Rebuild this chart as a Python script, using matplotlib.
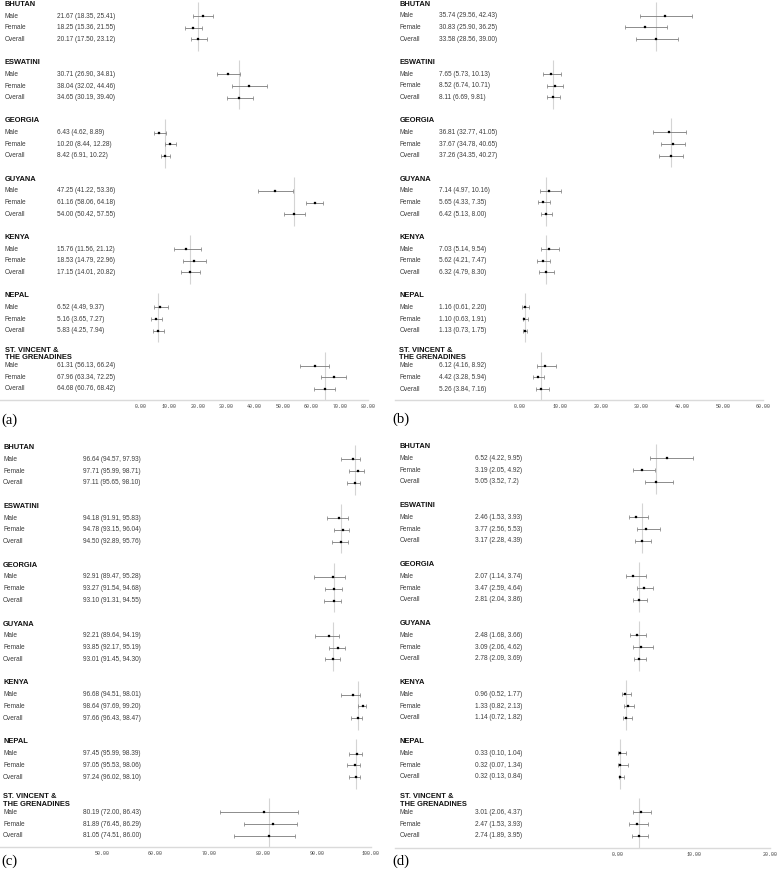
import matplotlib
matplotlib.use("Agg")
import matplotlib.pyplot as plt
from matplotlib.transforms import blended_transform_factory

# ---------------- data ----------------
countries = ["BHUTAN", "ESWATINI", "GEORGIA", "GUYANA", "KENYA", "NEPAL",
             ["ST. VINCENT &", "THE GRENADINES"]]
subgroups = ["Male", "Female", "Overall"]

a_est = [[21.67, 18.25, 20.17], [30.71, 38.04, 34.65], [6.43, 10.20, 8.42],
         [47.25, 61.16, 54.00], [15.76, 18.53, 17.15], [6.52, 5.16, 5.83],
         [61.31, 67.96, 64.68]]
a_lo = [[18.35, 15.36, 17.50], [26.90, 32.02, 30.19], [4.62, 8.44, 6.91],
        [41.22, 58.06, 50.42], [11.56, 14.79, 14.01], [4.49, 3.65, 4.25],
        [56.13, 63.34, 60.76]]
a_hi = [[25.41, 21.55, 23.12], [34.81, 44.46, 39.40], [8.89, 12.28, 10.22],
        [53.36, 64.18, 57.55], [21.12, 22.96, 20.82], [9.37, 7.27, 7.94],
        [66.24, 72.25, 68.42]]
a_ticks = [0, 10, 20, 30, 40, 50, 60, 70, 80]

b_est = [[35.74, 30.83, 33.58], [7.65, 8.52, 8.11], [36.81, 37.67, 37.26],
         [7.14, 5.65, 6.42], [7.03, 5.62, 6.32], [1.16, 1.10, 1.13],
         [6.12, 4.42, 5.26]]
b_lo = [[29.56, 25.90, 28.56], [5.73, 6.74, 6.69], [32.77, 34.78, 34.35],
        [4.97, 4.33, 5.13], [5.14, 4.21, 4.79], [0.61, 0.63, 0.73],
        [4.16, 3.28, 3.84]]
b_hi = [[42.43, 36.25, 39.00], [10.13, 10.71, 9.81], [41.05, 40.65, 40.27],
        [10.16, 7.35, 8.00], [9.54, 7.47, 8.30], [2.20, 1.91, 1.75],
        [8.92, 5.94, 7.16]]
b_ticks = [0, 10, 20, 30, 40, 50, 60]

c_est = [[96.64, 97.71, 97.11], [94.18, 94.78, 94.50], [92.91, 93.27, 93.10],
         [92.21, 93.85, 93.01], [96.68, 98.64, 97.66], [97.45, 97.05, 97.24],
         [80.19, 81.89, 81.05]]
c_lo = [[94.57, 95.99, 95.65], [91.91, 93.15, 92.89], [89.47, 91.54, 91.31],
        [89.64, 92.17, 91.45], [94.51, 97.69, 96.43], [95.99, 95.53, 96.02],
        [72.00, 76.45, 74.51]]
c_hi = [[97.93, 98.71, 98.10], [95.83, 96.04, 95.76], [95.28, 94.68, 94.55],
        [94.19, 95.19, 94.30], [98.01, 99.20, 98.47], [98.39, 98.06, 98.10],
        [86.43, 86.29, 86.00]]
c_ticks = [50, 60, 70, 80, 90, 100]

d_est = [[6.52, 3.19, 5.05], [2.46, 3.77, 3.17], [2.07, 3.47, 2.81],
         [2.48, 3.09, 2.78], [0.96, 1.33, 1.14], [0.33, 0.32, 0.32],
         [3.01, 2.47, 2.74]]
d_lo = [[4.22, 2.05, 3.52], [1.53, 2.56, 2.28], [1.14, 2.59, 2.04],
        [1.68, 2.06, 2.09], [0.52, 0.82, 0.72], [0.10, 0.07, 0.13],
        [2.06, 1.53, 1.89]]
d_hi = [[9.95, 4.92, 7.20], [3.93, 5.53, 4.39], [3.74, 4.64, 3.86],
        [3.66, 4.62, 3.69], [1.77, 2.13, 1.82], [1.04, 1.34, 0.84],
        [4.37, 3.93, 3.95]]
d_ticks = [0, 10, 20]
d_text_override = {(0, 2): "5.05 (3.52, 7.2)"}

# ---------------- layout ----------------
W, H = 778, 876
fig = plt.figure(figsize=(W / 100, H / 100), dpi=100)
fig.patch.set_facecolor("white")

panels = [
    dict(tag="(a)", est=a_est, lo=a_lo, hi=a_hi, ticks=a_ticks, over={},
         px_left=0, t0=(0, 141.0), t1=(80, 368.3), y0=4.5, u=11.65, top=0, bottom=400,
         lab_x=4.7, val_x=57.3, tag_xy=(1, 420.5)),
    dict(tag="(b)", est=b_est, lo=b_lo, hi=b_hi, ticks=b_ticks, over={},
         px_left=395, t0=(0, 520.0), t1=(60, 763.3), y0=4.0, u=11.67, top=0, bottom=400,
         lab_x=399.3, val_x=439.0, tag_xy=(392, 419.5)),
    dict(tag="(c)", est=c_est, lo=c_lo, hi=c_hi, ticks=c_ticks, over={},
         px_left=0, t0=(50, 101.7), t1=(100, 370.7), y0=447.5, u=11.77, top=440, bottom=847,
         lab_x=3.2, val_x=82.7, tag_xy=(1, 861.5)),
    dict(tag="(d)", est=d_est, lo=d_lo, hi=d_hi, ticks=d_ticks, over=d_text_override,
         px_left=395, t0=(0, 617.7), t1=(20, 770.0), y0=446.5, u=11.8, top=440, bottom=847.5,
         lab_x=400.0, val_x=475.0, tag_xy=(392, 861.5)),
]

SANS = ["Liberation Sans", "DejaVu Sans"]
TXT_COL = "#3c3c3c"


def fmt(v):
    return f"{v:.2f}"


for p in panels:
    (v0, px0), (v1, px1) = p["t0"], p["t1"]
    scale = (px1 - px0) / (v1 - v0)
    xleft = v0 - (px0 - p["px_left"]) / scale
    ax = fig.add_axes([p["px_left"] / W, 1 - p["bottom"] / H,
                       (px1 - p["px_left"]) / W, (p["bottom"] - p["top"]) / H])
    ax.set_xlim(xleft, v1)
    r_bottom = (p["bottom"] - p["y0"]) / p["u"]
    r_top = (p["top"] - p["y0"]) / p["u"]
    ax.set_ylim(r_bottom, r_top)
    ax.patch.set_alpha(0)
    for s in ["top", "left", "right"]:
        ax.spines[s].set_visible(False)
    ax.spines["bottom"].set_color("#dadada")
    ax.spines["bottom"].set_linewidth(1.0)
    ax.set_yticks([])
    ax.set_xticks(p["ticks"])
    ax.set_xticklabels([fmt(t) for t in p["ticks"]], fontfamily="Liberation Mono",
                       fontsize=3.6, color="#444444")
    ax.tick_params(axis="x", length=0, pad=3.0)

    tr = blended_transform_factory(fig.transFigure, ax.transData)

    for g, country in enumerate(countries):
        h = 5 * g
        # header
        if isinstance(country, list):
            ax.text(p["lab_x"] / W, h - 0.31, country[0], transform=tr, fontsize=5.4,
                    fontweight="bold", family=SANS, color="#111111", va="center", ha="left")
            ax.text(p["lab_x"] / W, h + 0.31, country[1], transform=tr, fontsize=5.4,
                    fontweight="bold", family=SANS, color="#111111", va="center", ha="left")
        else:
            ax.text(p["lab_x"] / W, h, country, transform=tr, fontsize=5.4,
                    fontweight="bold", family=SANS, color="#111111", va="center", ha="left")
        # reference line at overall estimate
        ax.vlines(p["est"][g][2], h - 0.2, h + 4.0, color="#d4d4d4", lw=0.8, zorder=1)
        for k, sg in enumerate(subgroups):
            r = h + 1 + k
            e, lo, hi = p["est"][g][k], p["lo"][g][k], p["hi"][g][k]
            ax.text(p["lab_x"] / W, r, sg, transform=tr, fontsize=4.7, family=SANS,
                    color=TXT_COL, va="center", ha="left")
            txt = p["over"].get((g, k), f"{fmt(e)} ({fmt(lo)}, {fmt(hi)})")
            ax.text(p["val_x"] / W, r, txt, transform=tr, fontsize=4.7, family=SANS,
                    color=TXT_COL, va="center", ha="left")
            ax.errorbar([e], [r], xerr=[[e - lo], [hi - e]], fmt="none",
                        ecolor="#7a7a7a", elinewidth=0.6, capsize=1.3, capthick=0.5,
                        zorder=2)
            ax.plot([e], [r], marker="s", ms=1.6, color="black", mec="black",
                    mew=0.2, linestyle="none", zorder=3)

    fig.text(p["tag_xy"][0] / W, 1 - p["tag_xy"][1] / H, p["tag"],
             family=["Liberation Serif", "DejaVu Serif"], fontsize=10.5,
             va="center", ha="left", color="black")

fig.savefig("out.png", dpi=100, facecolor="white")
